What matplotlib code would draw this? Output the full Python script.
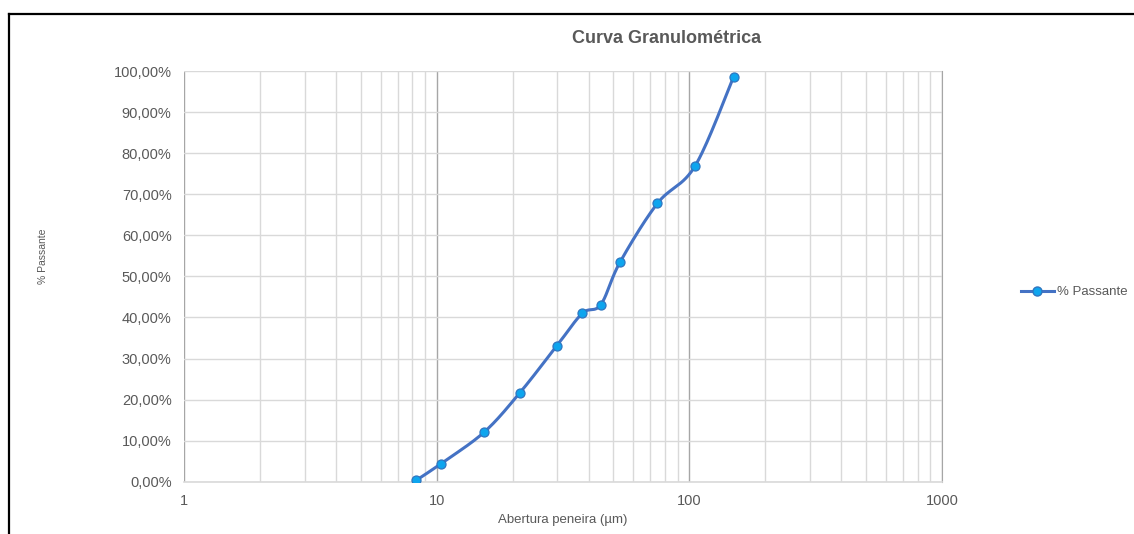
import numpy as np
import matplotlib.pyplot as plt
from matplotlib.lines import Line2D
from matplotlib.ticker import FixedLocator, FuncFormatter, NullFormatter

plt.rcParams['font.family'] = ['Liberation Sans', 'DejaVu Sans']

# abertura (µm) e % passante
abertura = [8.3, 10.4, 15.4, 21.3, 29.8, 37.7, 44.6, 53.1, 74.8, 105.4, 149.7]
passante = [0.35, 4.4, 12.05, 21.6, 33.0, 41.0, 43.1, 53.4, 67.8, 76.9, 98.6]

cor_texto = '#595959'
cor_linha = '#4472c4'


def suavizar(ax, xs, ys, n=30):
    # curva suavizada tipo Excel (Catmull-Rom / Bezier) em coordenadas de tela
    pts = ax.transData.transform(np.column_stack([xs, ys]))
    pts = np.vstack([pts[0], pts, pts[-1]])
    t = np.linspace(0, 1, n)[:, None]
    curva = []
    for i in range(1, len(pts) - 2):
        p0, p3 = pts[i], pts[i + 1]
        c1 = p0 + (pts[i + 1] - pts[i - 1]) / 6
        c2 = p3 - (pts[i + 2] - pts[i]) / 6
        b = ((1 - t) ** 3) * p0 + 3 * ((1 - t) ** 2) * t * c1 + 3 * (1 - t) * t ** 2 * c2 + t ** 3 * p3
        curva.append(b)
    curva = np.vstack(curva)
    return ax.transData.inverted().transform(curva).T


fig = plt.figure(figsize=(11.34, 5.34), dpi=100)
ax = fig.add_axes([0.1623, 0.0979, 0.6684, 0.7691])

ax.set_xscale('log')
ax.set_xlim(1, 1000)
ax.set_ylim(0, 100)

ax.xaxis.set_major_locator(FixedLocator([1, 10, 100, 1000]))
ax.xaxis.set_major_formatter(FuncFormatter(lambda v, p: '%d' % v))
minors = [m * 10 ** e for e in range(0, 3) for m in range(2, 10)]
ax.xaxis.set_minor_locator(FixedLocator(minors))
ax.xaxis.set_minor_formatter(NullFormatter())
ax.set_yticks(np.arange(0, 101, 10))
ax.yaxis.set_major_formatter(FuncFormatter(lambda v, p: ('%.2f%%' % v).replace('.', ',')))

ax.grid(True, which='minor', axis='x', color='#d9d9d9', linewidth=1.0)
ax.grid(True, which='major', axis='x', color='#a6a6a6', linewidth=1.0)
ax.grid(True, which='major', axis='y', color='#d9d9d9', linewidth=1.0)
ax.set_axisbelow(True)

for s in ['top', 'left']:
    ax.spines[s].set_visible(False)
ax.spines['right'].set_color('#a6a6a6')
ax.spines['bottom'].set_color('#d9d9d9')
ax.spines['bottom'].set_linewidth(1.2)
ax.tick_params(which='both', length=0, labelsize=10.5, colors=cor_texto)
ax.tick_params(axis='x', pad=9)
ax.tick_params(axis='y', pad=9)

# linha suavizada + marcadores
cx, cy = suavizar(ax, abertura, passante)
ax.plot(cx, cy, color=cor_linha, linewidth=2.2, solid_capstyle='round', zorder=3)
ax.plot(abertura, passante, linestyle='none', marker='o', markersize=6.5,
        markerfacecolor='#0ea5ee', markeredgecolor='#2f76c0', markeredgewidth=0.9, zorder=4)

ax.set_xlabel('Abertura peneira (µm)', fontsize=9.5, color=cor_texto, labelpad=4)
fig.text(0.038, 0.52, '% Passante', rotation=90, fontsize=7.5, color=cor_texto,
         ha='center', va='center')
fig.text(0.588, 0.928, 'Curva Granulométrica', fontsize=13, fontweight='bold',
         color=cor_texto, ha='center', va='center')

# legenda
leg_h = [Line2D([], [], color=cor_linha, linewidth=2.2, marker='o', markersize=6.5,
                markerfacecolor='#0ea5ee', markeredgecolor='#2f76c0')]
fig.legend(leg_h, ['% Passante'], loc='center left', bbox_to_anchor=(0.8945, 0.453),
           frameon=False, fontsize=9.5, labelcolor=cor_texto, handlelength=2.5,
           handletextpad=0.2, borderpad=0)

# moldura da área do gráfico
fig.add_artist(Line2D([8.5 / 1134, 1], [1 - 13.5 / 534] * 2, color='black', linewidth=1.6,
                      transform=fig.transFigure))
fig.add_artist(Line2D([8.5 / 1134] * 2, [0, 1 - 13.5 / 534], color='black', linewidth=1.6,
                      transform=fig.transFigure))

fig.savefig('out.png', dpi=100)
